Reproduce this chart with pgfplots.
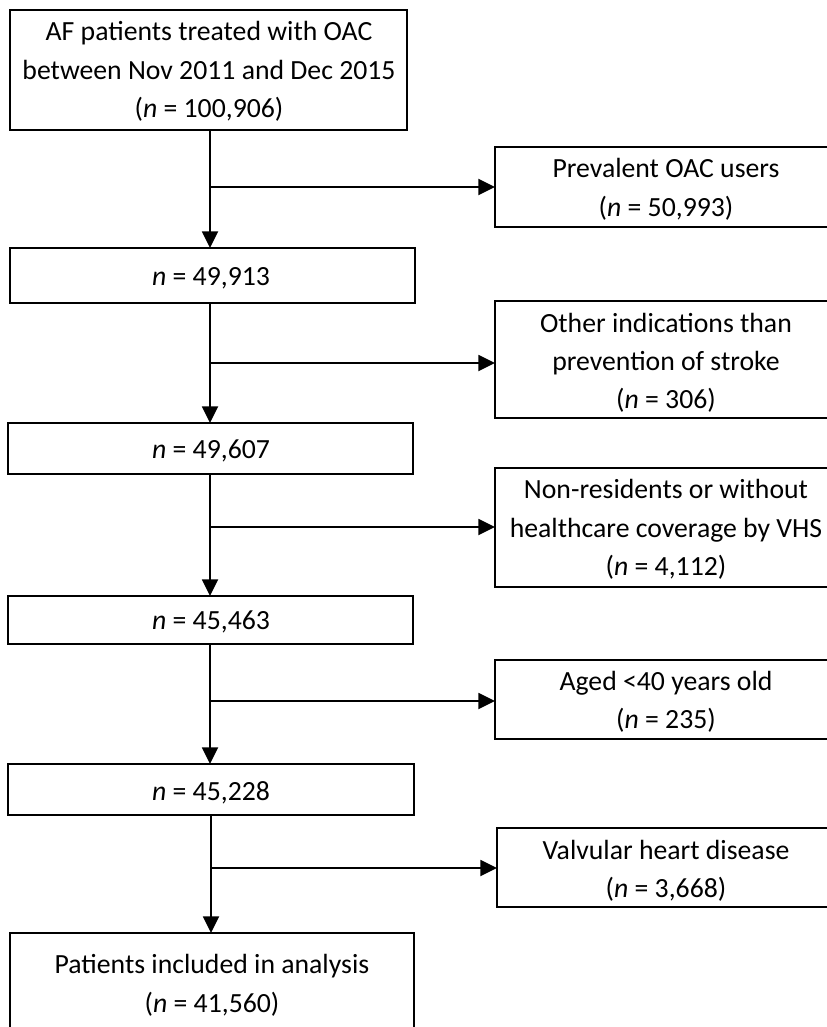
\documentclass[border=0pt]{standalone}
\usepackage{fontspec}
\setmainfont{Carlito}
\usepackage{pgfplots}
\pgfplotsset{compat=1.18}
\usetikzlibrary{arrows.meta}
\begin{document}
\begin{tikzpicture}[
  txt/.style={font=\fontsize{20.8pt}{28pt}\selectfont, anchor=base, inner sep=0pt, text=black},
]
\begin{axis}[
  scale only axis, width=620.25pt, height=770.25pt,
  xmin=0, xmax=827, ymin=0, ymax=1027, y dir=reverse,
  hide axis, clip=false,
]
% ---- left boxes
\addplot[line width=1.4pt, black] coordinates {(10,10) (407,10) (407,130) (10,130)} --cycle;
\addplot[line width=1.4pt, black] coordinates {(10,248) (415,248) (415,303) (10,303)} --cycle;
\addplot[line width=1.4pt, black] coordinates {(8,423) (413,423) (413,474) (8,474)} --cycle;
\addplot[line width=1.4pt, black] coordinates {(8,596) (413,596) (413,644) (8,644)} --cycle;
\addplot[line width=1.4pt, black] coordinates {(8,764) (414,764) (414,815) (8,815)} --cycle;
\addplot[line width=1.4pt, black] coordinates {(10,933) (414,933) (414,1060) (10,1060)} --cycle;
% ---- right boxes
\addplot[line width=1.4pt, black] coordinates {(495,147) (845,147) (845,227) (495,227)} --cycle;
\addplot[line width=1.4pt, black] coordinates {(495,301) (845,301) (845,418) (495,418)} --cycle;
\addplot[line width=1.4pt, black] coordinates {(495,468) (845,468) (845,587) (495,587)} --cycle;
\addplot[line width=1.4pt, black] coordinates {(495,660) (845,660) (845,739) (495,739)} --cycle;
\addplot[line width=1.4pt, black] coordinates {(497,828) (845,828) (845,907) (497,907)} --cycle;
% ---- vertical arrows
\addplot[line width=1.4pt, black, -{Triangle[width=12pt,length=12.5pt]}] coordinates {(210,130) (210,248)};
\addplot[line width=1.4pt, black, -{Triangle[width=12pt,length=12.5pt]}] coordinates {(210,303) (210,423)};
\addplot[line width=1.4pt, black, -{Triangle[width=12pt,length=12.5pt]}] coordinates {(210,474) (210,596)};
\addplot[line width=1.4pt, black, -{Triangle[width=12pt,length=12.5pt]}] coordinates {(210,644) (210,764)};
\addplot[line width=1.4pt, black, -{Triangle[width=12pt,length=12.5pt]}] coordinates {(211,815) (211,933)};
% ---- horizontal arrows
\addplot[line width=1.4pt, black, -{Triangle[width=12pt,length=12.5pt]}] coordinates {(210,187) (495,187)};
\addplot[line width=1.4pt, black, -{Triangle[width=12pt,length=12.5pt]}] coordinates {(210,363) (495,363)};
\addplot[line width=1.4pt, black, -{Triangle[width=12pt,length=12.5pt]}] coordinates {(210,527) (495,527)};
\addplot[line width=1.4pt, black, -{Triangle[width=12pt,length=12.5pt]}] coordinates {(210,701) (495,701)};
\addplot[line width=1.4pt, black, -{Triangle[width=12pt,length=12.5pt]}] coordinates {(211,868) (497,868)};
% ---- texts, left
\node[txt] at (axis cs:209,41) {AF patients treated with OAC};
\node[txt] at (axis cs:209,80) {between Nov 2011 and Dec 2015};
\node[txt] at (axis cs:209,118) {(\textit{n} = 100,906)};
\node[txt] at (axis cs:211,285) {\textit{n} = 49,913};
\node[txt] at (axis cs:211,458) {\textit{n} = 49,607};
\node[txt] at (axis cs:211,629) {\textit{n} = 45,463};
\node[txt] at (axis cs:211,800) {\textit{n} = 45,228};
\node[txt] at (axis cs:212,973) {Patients included in analysis};
\node[txt] at (axis cs:212,1012) {(\textit{n} = 41,560)};
% ---- texts, right
\node[txt] at (axis cs:666,177) {Prevalent OAC users};
\node[txt] at (axis cs:666,216) {(\textit{n} = 50,993)};
\node[txt] at (axis cs:666,332) {Other indications than};
\node[txt] at (axis cs:666,370) {prevention of stroke};
\node[txt] at (axis cs:666,408) {(\textit{n} = 306)};
\node[txt] at (axis cs:666,498) {Non-residents or without};
\node[txt] at (axis cs:666,537) {healthcare coverage by VHS};
\node[txt] at (axis cs:666,575) {(\textit{n} = 4,112)};
\node[txt] at (axis cs:666,690) {Aged <40 years old};
\node[txt] at (axis cs:666,728) {(\textit{n} = 235)};
\node[txt] at (axis cs:666,859) {Valvular heart disease};
\node[txt] at (axis cs:666,897) {(\textit{n} = 3,668)};
\end{axis}
\pgfresetboundingbox
\path (current axis.south west) rectangle (current axis.north east);
\end{tikzpicture}
\end{document}
